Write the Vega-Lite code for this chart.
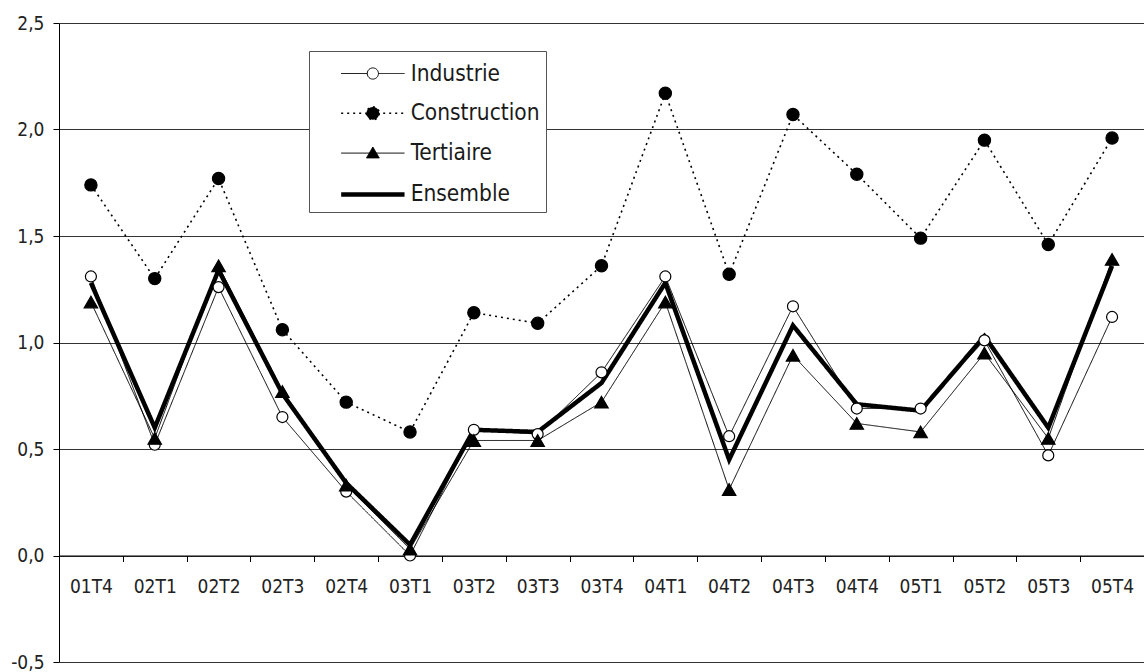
{
  "$schema": "https://vega.github.io/schema/vega-lite/v6.json",
  "width": 1085,
  "height": 639,
  "autosize": {"type": "none"},
  "padding": {"left": 59, "top": 23, "right": 0, "bottom": 10},
  "background": "white",
  "config": {"view": {"stroke": null}, "font": "DejaVu Sans Condensed, DejaVu Sans"},
  "data": {"values": [
    {"t":"01T4","s":"Industrie","v":1.31},{"t":"02T1","s":"Industrie","v":0.52},{"t":"02T2","s":"Industrie","v":1.26},{"t":"02T3","s":"Industrie","v":0.65},{"t":"02T4","s":"Industrie","v":0.30},{"t":"03T1","s":"Industrie","v":0.00},{"t":"03T2","s":"Industrie","v":0.59},{"t":"03T3","s":"Industrie","v":0.57},{"t":"03T4","s":"Industrie","v":0.86},{"t":"04T1","s":"Industrie","v":1.31},{"t":"04T2","s":"Industrie","v":0.56},{"t":"04T3","s":"Industrie","v":1.17},{"t":"04T4","s":"Industrie","v":0.69},{"t":"05T1","s":"Industrie","v":0.69},{"t":"05T2","s":"Industrie","v":1.01},{"t":"05T3","s":"Industrie","v":0.47},{"t":"05T4","s":"Industrie","v":1.12},
    {"t":"01T4","s":"Construction","v":1.74},{"t":"02T1","s":"Construction","v":1.30},{"t":"02T2","s":"Construction","v":1.77},{"t":"02T3","s":"Construction","v":1.06},{"t":"02T4","s":"Construction","v":0.72},{"t":"03T1","s":"Construction","v":0.58},{"t":"03T2","s":"Construction","v":1.14},{"t":"03T3","s":"Construction","v":1.09},{"t":"03T4","s":"Construction","v":1.36},{"t":"04T1","s":"Construction","v":2.17},{"t":"04T2","s":"Construction","v":1.32},{"t":"04T3","s":"Construction","v":2.07},{"t":"04T4","s":"Construction","v":1.79},{"t":"05T1","s":"Construction","v":1.49},{"t":"05T2","s":"Construction","v":1.95},{"t":"05T3","s":"Construction","v":1.46},{"t":"05T4","s":"Construction","v":1.96},
    {"t":"01T4","s":"Tertiaire","v":1.19},{"t":"02T1","s":"Tertiaire","v":0.55},{"t":"02T2","s":"Tertiaire","v":1.36},{"t":"02T3","s":"Tertiaire","v":0.77},{"t":"02T4","s":"Tertiaire","v":0.33},{"t":"03T1","s":"Tertiaire","v":0.03},{"t":"03T2","s":"Tertiaire","v":0.54},{"t":"03T3","s":"Tertiaire","v":0.54},{"t":"03T4","s":"Tertiaire","v":0.72},{"t":"04T1","s":"Tertiaire","v":1.19},{"t":"04T2","s":"Tertiaire","v":0.31},{"t":"04T3","s":"Tertiaire","v":0.94},{"t":"04T4","s":"Tertiaire","v":0.62},{"t":"05T1","s":"Tertiaire","v":0.58},{"t":"05T2","s":"Tertiaire","v":0.95},{"t":"05T3","s":"Tertiaire","v":0.55},{"t":"05T4","s":"Tertiaire","v":1.39},
    {"t":"01T4","s":"Ensemble","v":1.28},{"t":"02T1","s":"Ensemble","v":0.60},{"t":"02T2","s":"Ensemble","v":1.34},{"t":"02T3","s":"Ensemble","v":0.76},{"t":"02T4","s":"Ensemble","v":0.34},{"t":"03T1","s":"Ensemble","v":0.05},{"t":"03T2","s":"Ensemble","v":0.59},{"t":"03T3","s":"Ensemble","v":0.58},{"t":"03T4","s":"Ensemble","v":0.81},{"t":"04T1","s":"Ensemble","v":1.28},{"t":"04T2","s":"Ensemble","v":0.45},{"t":"04T3","s":"Ensemble","v":1.08},{"t":"04T4","s":"Ensemble","v":0.71},{"t":"05T1","s":"Ensemble","v":0.68},{"t":"05T2","s":"Ensemble","v":1.03},{"t":"05T3","s":"Ensemble","v":0.60},{"t":"05T4","s":"Ensemble","v":1.36}
  ]},
  "encoding": {
    "x": {
      "field": "t", "type": "ordinal",
      "sort": ["01T4","02T1","02T2","02T3","02T4","03T1","03T2","03T3","03T4","04T1","04T2","04T3","04T4","05T1","05T2","05T3","05T4"],
      "scale": {"type": "band", "paddingInner": 0, "paddingOuter": 0},
      "axis": {"title": null, "orient": "bottom", "offset": -106.5, "tickBand": "extent", "labelAngle": 0, "domainColor": "#000", "domainWidth": 1, "tickColor": "#000", "tickSize": 6, "labelFontSize": 19, "labelPadding": 16, "labelColor": "#222", "grid": false}
    },
    "y": {
      "field": "v", "type": "quantitative",
      "scale": {"domain": [-0.5, 2.5], "nice": false, "zero": false},
      "axis": {"title": null, "values": [-0.5, 0, 0.5, 1, 1.5, 2, 2.5], "labelExpr": "replace(replace(format(datum.value, '.1f'), '.', ','), '\u2212', '-')", "grid": true, "gridColor": "#333", "gridWidth": 1, "gridOpacity": 1, "domainColor": "#000", "tickColor": "#000", "tickSize": 6, "labelFontSize": 19, "labelPadding": 9, "labelColor": "#222"}
    }
  },
  "layer": [
    {
      "transform": [{"filter": "false"}],
      "mark": {"type": "point", "filled": true, "opacity": 1, "fillOpacity": 1},
      "encoding": {
        "fill": {
          "field": "s", "type": "nominal",
          "scale": {"domain": ["Industrie", "Construction", "Tertiaire", "Ensemble"], "range": ["white", "black", "black", "transparent"]},
          "legend": {
            "orient": "none", "legendX": 250, "legendY": 28, "title": null,
            "strokeColor": "#555", "fillColor": "white", "padding": 6,
            "symbolSize": 1024, "symbolOpacity": 1, "symbolFillColor": "black", "symbolStrokeColor": "black",
            "rowPadding": 11.3, "labelOffset": 58.7,
            "labelFontSize": 22.5, "labelColor": "#1a1a1a", "labelLimit": 300
          }
        },
        "shape": {"field": "s", "type": "nominal", "scale": {"domain": ["Industrie", "Construction", "Tertiaire", "Ensemble"], "range": [
          "M0.48,0H2.11M2.81,0H4.44M2.81,0A0.35,0.35,0,1,1,2.11,0A0.35,0.35,0,1,1,2.81,0",
          "M0.48,0H4.44M2.86,0A0.4,0.4,0,1,1,2.06,0A0.4,0.4,0,1,1,2.86,0",
          "M0.48,0H4.44M2.46,-0.38L2.86,0.3L2.06,0.3Z",
          "M0.48,0H4.44"]}},
        "stroke": {"field": "s", "type": "nominal", "scale": {"domain": ["Industrie", "Construction", "Tertiaire", "Ensemble"], "range": ["black", "black", "black", "black"]}},
        "strokeDash": {"field": "s", "type": "nominal", "scale": {"domain": ["Industrie", "Construction", "Tertiaire", "Ensemble"], "range": [[1, 0], [2, 4], [1, 0], [1, 0]]}},
        "strokeWidth": {"field": "s", "type": "ordinal", "scale": {"type": "ordinal", "domain": ["Industrie", "Construction", "Tertiaire", "Ensemble"], "range": [1, 1.6, 1, 4.5]}}
      }
    },
    {
      "mark": {"type": "line", "color": "black"},
      "encoding": {
        "strokeDash": {"field": "s", "type": "nominal", "scale": {"domain": ["Industrie", "Construction", "Tertiaire", "Ensemble"], "range": [[1, 0], [2, 4], [1, 0], [1, 0]]}, "legend": null},
        "strokeWidth": {"field": "s", "type": "ordinal", "scale": {"type": "ordinal", "domain": ["Industrie", "Construction", "Tertiaire", "Ensemble"], "range": [1, 1.6, 1, 4.5]}, "legend": null}
      }
    },
    {
      "transform": [{"filter": "datum.s !== 'Ensemble'"}],
      "mark": {"type": "point", "filled": true, "stroke": "black", "strokeWidth": 1.2, "opacity": 1},
      "encoding": {
        "shape": {"condition": {"test": "datum.s === 'Tertiaire'", "value": "triangle-up"}, "value": "circle"},
        "fill": {"condition": {"test": "datum.s === 'Industrie'", "value": "white"}, "value": "black"},
        "size": {"condition": [{"test": "datum.s === 'Industrie'", "value": 121}, {"test": "datum.s === 'Construction'", "value": 150}], "value": 180}
      }
    }
  ]
}
